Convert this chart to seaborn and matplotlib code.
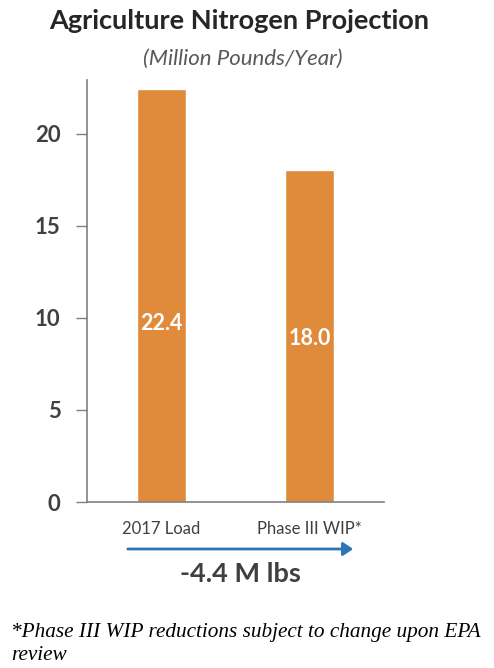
import numpy as np
import matplotlib.pyplot as plt
import seaborn as sns

categories = ['2017 Load', 'Phase III WIP*']
values = [22.4, 18.0]
label_y = [9.7, 8.9]
yticks = [0, 5, 10, 15, 20]

sns.set_style('white')
plt.rcParams['font.family'] = ['Lato', 'DejaVu Sans']

fig = plt.figure(figsize=(4.94, 6.68), dpi=100)
ax = fig.add_axes([0.176, 0.2485, 0.601, 0.6315])

sns.barplot(x=categories, y=values, color='#E08A3C', saturation=1, width=0.33, ax=ax)

for i, (v, ly) in enumerate(zip(values, label_y)):
    ax.text(i, ly, f'{v:.1f}', ha='center', va='center', color='white',
            fontsize=15.5, fontweight='bold')

ax.set_xlim(-0.5, 1.5)
ax.set_ylim(0, 22.9)
ax.set_yticks(yticks)
ax.set_yticklabels([str(t) for t in yticks], fontsize=16, fontweight='bold', color='#404040')
ax.tick_params(axis='y', length=8, width=1, color='#808080', pad=11, left=True)
ax.tick_params(axis='x', length=0, labelsize=12, labelcolor='#404040', pad=14)
for s in ['top', 'right']:
    ax.spines[s].set_visible(False)
for s in ['left', 'bottom']:
    ax.spines[s].set_color('#808080')
    ax.spines[s].set_linewidth(1.2)

fig.text(0.485, 1 - 21 / 668, 'Agriculture Nitrogen Projection', ha='center', va='center',
         fontsize=19.5, fontweight='bold', color='#262626')
fig.text(0.492, 1 - 59 / 668, '(Million Pounds/Year)', ha='center', va='center',
         fontsize=16, style='italic', color='#595959')

fig.add_artist(plt.matplotlib.patches.FancyArrowPatch(
    (125 / 494, 1 - 549 / 668), (356 / 494, 1 - 549 / 668),
    transform=fig.transFigure, arrowstyle='-|>,head_length=6,head_width=4',
    color='#2E75B6', lw=2, mutation_scale=1))
fig.text(0.487, 1 - 574 / 668, '-4.4 M lbs', ha='center', va='center',
         fontsize=19.5, fontweight='bold', color='#404040')

fig.text(0.022, 1 - 633 / 668, '*Phase III WIP reductions subject to change upon EPA',
         ha='left', va='center', fontsize=15.3, style='italic', family='Liberation Serif',
         color='black')
fig.text(0.022, 1 - 655 / 668, 'review', ha='left', va='center', fontsize=15.3,
         style='italic', family='Liberation Serif', color='black')

fig.savefig('out.png', dpi=100)
